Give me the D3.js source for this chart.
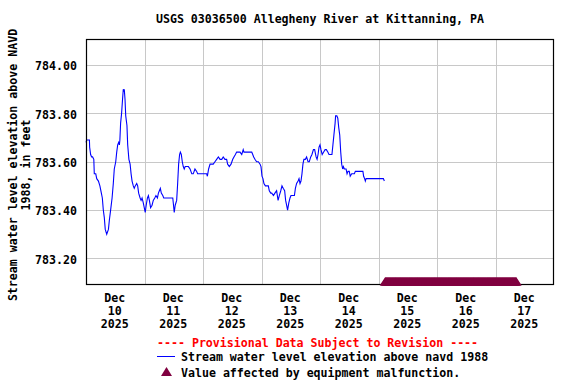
<!DOCTYPE html>
<html lang="en">

<head>
    <meta charset="utf-8">
    <title>USGS 03036500 Allegheny River at Kittanning, PA</title>
    <script type="text/javascript" src="https://cdn.jsdelivr.net/npm/d3@7"></script>
    <style type="text/css">
    body {
        margin: 0;
        background: white;
    }

    svg text {
        font-family: "DejaVu Sans Mono", "Liberation Mono", monospace;
        font-weight: bold;
        font-size: 11.6px;
        fill: black;
    }
    </style>
</head>

<body>
    <script type="text/javascript">
    //Width and height
    var w = 576;
    var h = 384;

    //plot box (note: "top" is taken by window.top)
    var plotLeft = 86,
        plotRight = 554,
        plotTop = 39,
        plotBottom = 284;

    //record start, hours are counted from here
    var recordStart = new Date(2025, 11, 9, 12, 0);

    //hours after record start
    var hours = [0.0, 0.3, 1.4, 1.5, 1.9, 2.3, 2.7, 3.2, 3.4, 4.0, 4.4, 5.1, 5.7, 6.3, 6.7, 7.1, 7.5, 7.9, 8.5, 9.2,
        9.6, 10.1, 10.7, 11.2, 11.6, 12.2, 12.6, 13.0, 13.4, 13.7, 13.9, 14.2, 14.6, 15.0, 15.3, 15.6, 15.7, 16.0,
        16.3, 16.8, 17.1, 17.6, 18.1, 18.5, 18.9, 19.4, 19.8, 20.2, 20.8, 21.2, 21.6, 22.2, 22.6, 23.0, 23.5, 23.9,
        24.3, 24.7, 25.2, 25.6, 26.0, 26.5, 27.1, 27.6, 28.2, 28.7, 29.3, 29.7, 30.1, 30.5, 30.9, 31.5, 31.9, 35.6,
        35.8, 36.2, 36.6, 37.2, 37.6, 38.0, 38.4, 38.7, 39.1, 39.5, 39.9, 40.3, 40.7, 41.3, 42.0, 42.7, 43.4, 44.0,
        44.7, 45.4, 45.8, 49.5, 49.8, 50.3, 50.9, 51.6, 52.2, 52.9, 53.6, 54.3, 55.0, 55.7, 56.3, 57.0, 57.7, 58.1,
        58.8, 59.5, 60.2, 60.7, 61.3, 61.8, 63.2, 63.9, 64.5, 64.8, 68.0, 68.4, 68.8, 69.3, 70.0, 70.7, 71.4, 71.8,
        72.2, 72.6, 73.0, 73.6, 74.8, 75.2, 75.8, 76.2, 76.9, 77.5, 78.2, 78.8, 79.3, 79.9, 80.4, 80.9, 81.5, 81.9,
        82.3, 82.7, 83.2, 83.7, 84.1, 85.5, 85.9, 86.4, 87.0, 87.4, 87.8, 88.2, 88.6, 89.0, 89.4, 90.0, 90.5, 91.1,
        91.6, 92.2, 92.7, 93.3, 93.8, 94.4, 94.8, 95.2, 95.6, 96.0, 96.4, 96.9, 97.5, 98.1, 98.6, 99.2, 99.7, 100.9,
        101.3, 101.7, 102.2, 102.4, 102.9, 103.3, 103.7, 104.1, 104.5, 104.9, 105.3, 105.6, 106.0, 106.7, 107.1,
        107.5, 108.0, 108.4, 109.0, 110.1, 110.5, 113.6, 113.9, 114.3, 114.6, 114.9, 122.0, 122.4
    ];

    //water level, feet above NAVD 1988
    var levels = [783.68, 783.69, 783.69, 783.66, 783.63, 783.62, 783.62, 783.61, 783.55, 783.55, 783.53, 783.52,
        783.50, 783.47, 783.45, 783.40, 783.37, 783.32, 783.30, 783.32, 783.36, 783.40, 783.45, 783.51, 783.57,
        783.60, 783.64, 783.67, 783.68, 783.67, 783.69, 783.76, 783.80, 783.86, 783.90, 783.89, 783.90, 783.86,
        783.79, 783.75, 783.67, 783.61, 783.59, 783.55, 783.52, 783.50, 783.49, 783.50, 783.51, 783.50, 783.47,
        783.45, 783.44, 783.45, 783.43, 783.41, 783.39, 783.42, 783.45, 783.46, 783.44, 783.41, 783.42, 783.44,
        783.45, 783.46, 783.45, 783.47, 783.48, 783.49, 783.47, 783.46, 783.45, 783.45, 783.43, 783.39, 783.42,
        783.44, 783.51, 783.59, 783.63, 783.64, 783.63, 783.60, 783.58, 783.57, 783.58, 783.58, 783.58, 783.57,
        783.55, 783.55, 783.57, 783.56, 783.55, 783.55, 783.54, 783.57, 783.59, 783.59, 783.59, 783.60, 783.61,
        783.62, 783.61, 783.61, 783.62, 783.61, 783.61, 783.59, 783.58, 783.59, 783.61, 783.62, 783.63, 783.64,
        783.64, 783.63, 783.65, 783.64, 783.64, 783.63, 783.62, 783.61, 783.60, 783.60, 783.59, 783.58, 783.54,
        783.53, 783.51, 783.50, 783.50, 783.48, 783.47, 783.47, 783.46, 783.47, 783.48, 783.44, 783.46, 783.48,
        783.50, 783.49, 783.48, 783.44, 783.42, 783.40, 783.43, 783.45, 783.46, 783.46, 783.49, 783.51, 783.52,
        783.53, 783.51, 783.52, 783.55, 783.59, 783.61, 783.61, 783.62, 783.60, 783.60, 783.62, 783.63, 783.65,
        783.65, 783.62, 783.61, 783.63, 783.66, 783.67, 783.65, 783.63, 783.64, 783.65, 783.65, 783.64, 783.63,
        783.63, 783.67, 783.71, 783.76, 783.79, 783.79, 783.78, 783.74, 783.71, 783.64, 783.59, 783.57, 783.58,
        783.57, 783.57, 783.55, 783.56, 783.56, 783.54, 783.55, 783.55, 783.56, 783.56, 783.54, 783.53, 783.52,
        783.53, 783.53, 783.52
    ];

    //equipment malfunction flagged period
    var flagPeriod = [new Date(2025, 11, 14, 14, 45), new Date(2025, 11, 16, 20, 30)];

    //axis ticks
    var yTicks = [783.2, 783.4, 783.6, 783.8, 784.0];
    var dayLabels = [10, 11, 12, 13, 14, 15, 16, 17];

    var title = 'USGS 03036500 Allegheny River at Kittanning, PA';
    var yTitle = ['Stream water level elevation above NAVD', '1988, in feet'];

    var maroon = '#800040';

    //scales
    var x = d3.scaleTime()
        .domain([recordStart, new Date(2025, 11, 17, 12, 0)])
        .range([plotLeft, plotRight]);

    var y = d3.scaleLinear()
        .domain([783.094, 784.108])
        .range([plotBottom, plotTop]);

    var data = hours.map(function(hr, i) {
        return {
            date: new Date(recordStart.getTime() + hr * 3600000),
            value: levels[i]
        };
    });

    //create SVG
    var svg = d3.select('body')
        .append('svg')
        .attr('width', w)
        .attr('height', h);

    //title
    svg.append('text')
        .attr('x', (plotLeft + plotRight) / 2)
        .attr('y', 23)
        .attr('text-anchor', 'middle')
        .text(title);

    //grid
    var grid = svg.append('g')
        .attr('stroke', '#c8c8c8')
        .attr('stroke-width', 1);

    grid.selectAll('line.h')
        .data(yTicks)
        .enter()
        .append('line')
        .attr('class', 'h')
        .attr('x1', plotLeft)
        .attr('x2', plotRight)
        .attr('y1', function(d) { return Math.round(y(d)) + 0.5; })
        .attr('y2', function(d) { return Math.round(y(d)) + 0.5; });

    //vertical grid at noon
    var noons = dayLabels.slice(0, 7).map(function(d) { return new Date(2025, 11, d, 12, 0); });

    grid.selectAll('line.v')
        .data(noons)
        .enter()
        .append('line')
        .attr('class', 'v')
        .attr('x1', function(d) { return Math.round(x(d)) + 0.5; })
        .attr('x2', function(d) { return Math.round(x(d)) + 0.5; })
        .attr('y1', plotTop)
        .attr('y2', plotBottom);

    //water level line
    var line = d3.line()
        .x(function(d) { return x(d.date); })
        .y(function(d) { return y(d.value); });

    svg.append('path')
        .datum(data)
        .attr('d', line)
        .attr('fill', 'none')
        .attr('stroke', '#0000ff')
        .attr('stroke-width', 1.1);

    //plot frame
    svg.append('rect')
        .attr('x', plotLeft + 0.5)
        .attr('y', plotTop + 0.5)
        .attr('width', plotRight - plotLeft - 1)
        .attr('height', plotBottom - plotTop)
        .attr('fill', 'none')
        .attr('stroke', 'black')
        .attr('stroke-width', 1.2);

    //equipment malfunction flags, one triangle per 15 minutes
    var triangle = function(cx, apex) {
        return 'M' + (cx - 5.5) + ',' + (apex + 8.5) + 'L' + cx + ',' + apex + 'L' + (cx + 5.5) + ',' + (apex + 8.5) + 'Z';
    };

    var flagTimes = d3.timeMinute.every(15).range(flagPeriod[0], d3.timeMinute.offset(flagPeriod[1], 1));

    svg.append('g')
        .selectAll('path')
        .data(flagTimes)
        .enter()
        .append('path')
        .attr('d', function(d) { return triangle(x(d), 277); })
        .attr('fill', maroon);

    //y axis labels
    var yAxis = d3.axisLeft(y)
        .tickValues(yTicks)
        .tickSize(0)
        .tickPadding(9)
        .tickFormat(d3.format('.2f'));

    var yG = svg.append('g')
        .attr('transform', 'translate(' + plotLeft + ',0)')
        .call(yAxis);

    yG.select('.domain').remove();
    yG.attr('font-family', null).attr('font-size', null);
    yG.selectAll('text').attr('dy', '0.42em');

    //x axis labels at midnight
    var midnights = dayLabels.map(function(d) { return new Date(2025, 11, d); });

    var xAxis = d3.axisBottom(x)
        .tickValues(midnights)
        .tickSize(0)
        .tickPadding(0)
        .tickFormat('');

    var xG = svg.append('g')
        .attr('transform', 'translate(-1,' + plotBottom + ')')
        .call(xAxis);

    xG.select('.domain').remove();
    xG.attr('font-family', null).attr('font-size', null);

    xG.selectAll('.tick text')
        .attr('dy', null)
        .each(function(d) {
            var t = d3.select(this);
            var parts = [d3.timeFormat('%b')(d), d3.timeFormat('%d')(d), d3.timeFormat('%Y')(d)];
            parts.forEach(function(p, i) {
                t.append('tspan')
                    .attr('x', 0)
                    .attr('y', 18 + i * 13)
                    .text(p);
            });
        });

    //y axis title
    svg.selectAll('text.ytitle')
        .data(yTitle)
        .enter()
        .append('text')
        .attr('class', 'ytitle')
        .attr('text-anchor', 'middle')
        .attr('transform', function(d, i) {
            return 'translate(' + (17 + i * 12.5) + ',165) rotate(-90)';
        })
        .text(function(d) { return d; });

    //legend
    var legend = svg.append('g');

    legend.append('text')
        .attr('x', 157)
        .attr('y', 346.5)
        .style('fill', '#ff0000')
        .text('---- Provisional Data Subject to Revision ----');

    legend.append('line')
        .attr('x1', 157)
        .attr('x2', 175)
        .attr('y1', 356.5)
        .attr('y2', 356.5)
        .attr('stroke', '#0000ff')
        .attr('stroke-width', 1);

    legend.append('text')
        .attr('x', 181)
        .attr('y', 361)
        .text('Stream water level elevation above navd 1988');

    legend.append('path')
        .attr('d', 'M161,376L166.5,367L172,376Z')
        .attr('fill', maroon);

    legend.append('text')
        .attr('x', 181)
        .attr('y', 376.5)
        .text('Value affected by equipment malfunction.');
    </script>
</body>

</html>
